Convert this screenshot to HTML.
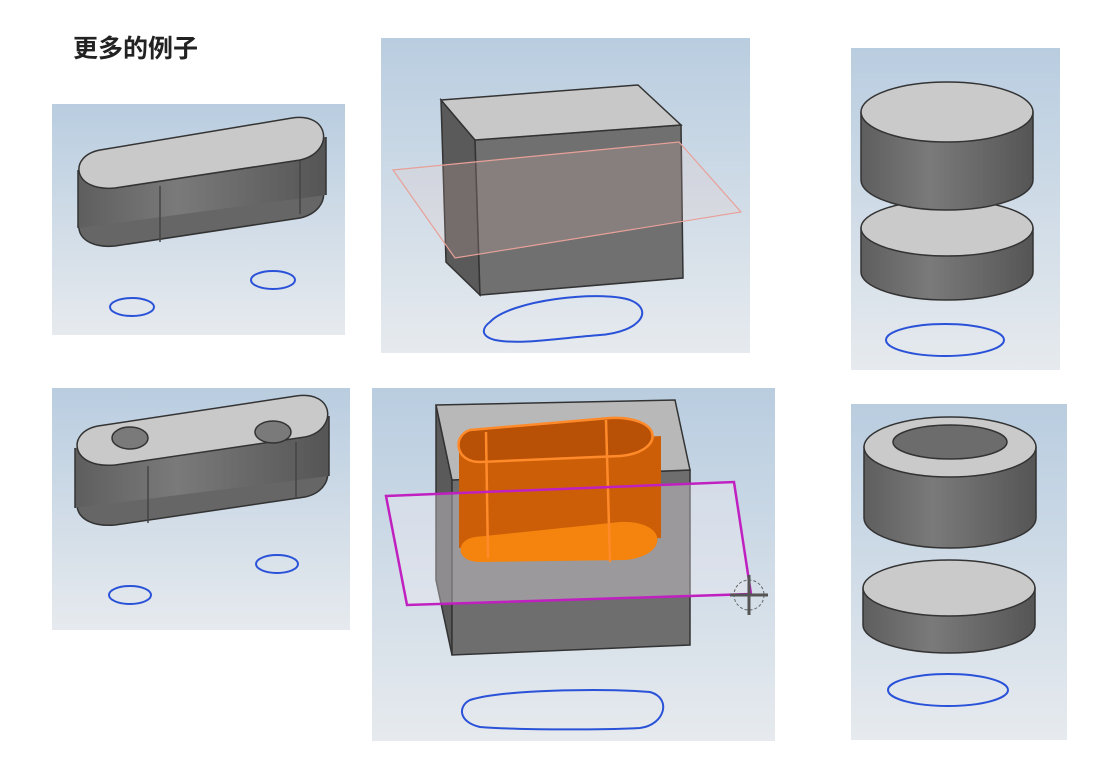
<!DOCTYPE html>
<html><head><meta charset="utf-8"><style>
html,body{margin:0;padding:0;background:#fff;}
svg{display:block}
</style></head><body>
<svg width="1114" height="771" viewBox="0 0 1114 771" xmlns="http://www.w3.org/2000/svg">
<defs>
<linearGradient id="bg" x1="0" y1="0" x2="0" y2="1">
<stop offset="0" stop-color="#b9cde0"/><stop offset="1" stop-color="#e6eaee"/>
</linearGradient>
<linearGradient id="side" x1="0" y1="0" x2="1" y2="0">
<stop offset="0" stop-color="#5e5e5e"/><stop offset="0.4" stop-color="#7a7a7a"/><stop offset="1" stop-color="#555"/>
</linearGradient>
</defs>
<text x="73" y="57" font-family="'Liberation Sans','Noto Sans CJK SC',sans-serif" font-size="25" font-weight="bold" fill="#222">更多的例子</text>

<!-- panel 1 -->
<rect x="52" y="104" width="293" height="231" fill="url(#bg)"/>
<g stroke="#333" stroke-width="1.5">
<path d="M100,208 L292,176 C330,170 335,210 300,218 L115,246 C72,250 68,214 100,208 Z" fill="#666"/>
<polygon points="78,170 326,137 326,195 78,228" fill="url(#side)" stroke="none"/>
<line x1="78" y1="170" x2="78" y2="228"/><line x1="326" y1="137" x2="326" y2="195"/>
<line x1="160" y1="186" x2="160" y2="242" stroke="#444"/><line x1="300" y1="160" x2="300" y2="214" stroke="#444"/>
<path d="M100,150 L292,118 C330,112 335,152 300,160 L115,188 C72,192 68,156 100,150 Z" fill="#c9c9c9"/>
</g>
<ellipse cx="132" cy="307" rx="22" ry="9" fill="none" stroke="#2a52d8" stroke-width="2"/>
<ellipse cx="273" cy="280" rx="22" ry="9" fill="none" stroke="#2a52d8" stroke-width="2"/>

<!-- panel 4 -->
<rect x="52" y="388" width="298" height="242" fill="url(#bg)"/>
<g stroke="#333" stroke-width="1.5">
<path d="M98,486 L296,456 C335,450 338,490 305,497 L115,525 C70,529 66,492 98,486 Z" fill="#666"/>
<polygon points="75,448 329,416 329,476 75,508" fill="url(#side)" stroke="none"/>
<line x1="75" y1="448" x2="75" y2="508"/><line x1="329" y1="416" x2="329" y2="476"/>
<line x1="148" y1="466" x2="148" y2="523" stroke="#444"/><line x1="296" y1="442" x2="296" y2="497" stroke="#444"/>
<path d="M98,426 L296,396 C335,390 338,430 305,437 L115,465 C70,469 66,432 98,426 Z" fill="#c9c9c9"/>
<ellipse cx="130" cy="438" rx="18" ry="11" fill="#7a7a7a"/>
<ellipse cx="273" cy="432" rx="18" ry="11" fill="#7a7a7a"/>
</g>
<ellipse cx="130" cy="595" rx="21" ry="9" fill="none" stroke="#2a52d8" stroke-width="2"/>
<ellipse cx="277" cy="564" rx="21" ry="9" fill="none" stroke="#2a52d8" stroke-width="2"/>

<!-- panel 2 -->
<rect x="381" y="38" width="369" height="315" fill="url(#bg)"/>
<g stroke="#333" stroke-width="1.5">
<polygon points="441,100 475,140 480,295 446,262" fill="#5a5a5a"/>
<polygon points="475,140 681,125 683,278 480,295" fill="#707070"/>
<polygon points="441,100 638,85 681,125 475,140" fill="#c8c8c8"/>
</g>
<polygon points="393,170 679,142 741,212 455,258" fill="#f0c8c0" fill-opacity="0.18" stroke="#e8a098" stroke-width="1.2"/>
<path d="M490,322 C510,300 600,290 630,300 C655,310 640,332 600,335 C560,338 520,345 495,340 C480,336 482,328 490,322 Z" fill="none" stroke="#2a52d8" stroke-width="2"/>

<!-- panel 5 -->
<rect x="372" y="388" width="403" height="353" fill="url(#bg)"/>
<g stroke="#333" stroke-width="1.5">
<polygon points="436,405 452,480 452,655 436,580" fill="#5a5a5a"/>
<polygon points="452,480 690,470 690,645 452,655" fill="#6e6e6e"/>
<polygon points="436,405 675,400 690,470 452,480" fill="#b8b8b8"/>
</g>
<polygon points="386,496 734,482 751,594 407,605" fill="#f0ecf2" fill-opacity="0.35"/>
<path d="M459,446 L459,548 L661,538 L661,436 Z" fill="#cc5e08"/>
<path d="M470,430 L610,418 C665,416 665,452 620,456 L480,462 C455,462 452,436 470,430 Z" fill="#b85006"/>
<path d="M475,537 L620,522 C668,520 670,556 625,560 L480,562 C455,562 455,540 475,537 Z" fill="#f5840e"/>
<g stroke="#ff8a2a" stroke-width="2.5" fill="none">
<line x1="486" y1="432" x2="488" y2="558"/><line x1="606" y1="420" x2="610" y2="562"/>
<path d="M470,430 L610,418 C665,416 665,452 620,456 L480,462 C455,462 452,436 470,430 Z"/>
</g>
<polygon points="386,496 734,482 751,594 407,605" fill="none" stroke="#c020c0" stroke-width="2.5"/>
<circle cx="749" cy="595" r="15" fill="none" stroke="#666" stroke-width="1" stroke-dasharray="3,2"/>
<line x1="749" y1="575" x2="749" y2="615" stroke="#555" stroke-width="3"/>
<line x1="730" y1="595" x2="768" y2="595" stroke="#555" stroke-width="3"/>
<path d="M470,700 C500,690 600,688 650,692 C672,698 665,725 640,728 C600,730 520,730 480,727 C458,722 458,706 470,700 Z" fill="none" stroke="#2a52d8" stroke-width="2"/>

<!-- panel 3 -->
<rect x="851" y="48" width="209" height="322" fill="url(#bg)"/>
<g stroke="#333" stroke-width="1.5">
<path d="M861,228 L861,272 A86,28 0 0 0 1033,272 L1033,228 Z" fill="url(#side)"/>
<ellipse cx="947" cy="228" rx="86" ry="28" fill="#cacaca"/>
<path d="M861,112 L861,180 A86,30 0 0 0 1033,180 L1033,112 Z" fill="url(#side)"/>
<ellipse cx="947" cy="112" rx="86" ry="30" fill="#cacaca"/>
</g>
<ellipse cx="945" cy="340" rx="59" ry="16" fill="none" stroke="#2a52d8" stroke-width="2"/>

<!-- panel 6 -->
<rect x="851" y="404" width="216" height="336" fill="url(#bg)"/>
<g stroke="#333" stroke-width="1.5">
<path d="M863,588 L863,625 A86,28 0 0 0 1035,625 L1035,588 Z" fill="url(#side)"/>
<ellipse cx="949" cy="588" rx="86" ry="28" fill="#cacaca"/>
<path d="M864,447 L864,518 A86,30 0 0 0 1036,518 L1036,447 Z" fill="url(#side)"/>
<ellipse cx="950" cy="447" rx="86" ry="30" fill="#cacaca"/>
<ellipse cx="950" cy="442" rx="57" ry="17" fill="#6c6c6c"/>
</g>
<ellipse cx="948" cy="690" rx="60" ry="16" fill="none" stroke="#2a52d8" stroke-width="2"/>
</svg>
</body></html>
